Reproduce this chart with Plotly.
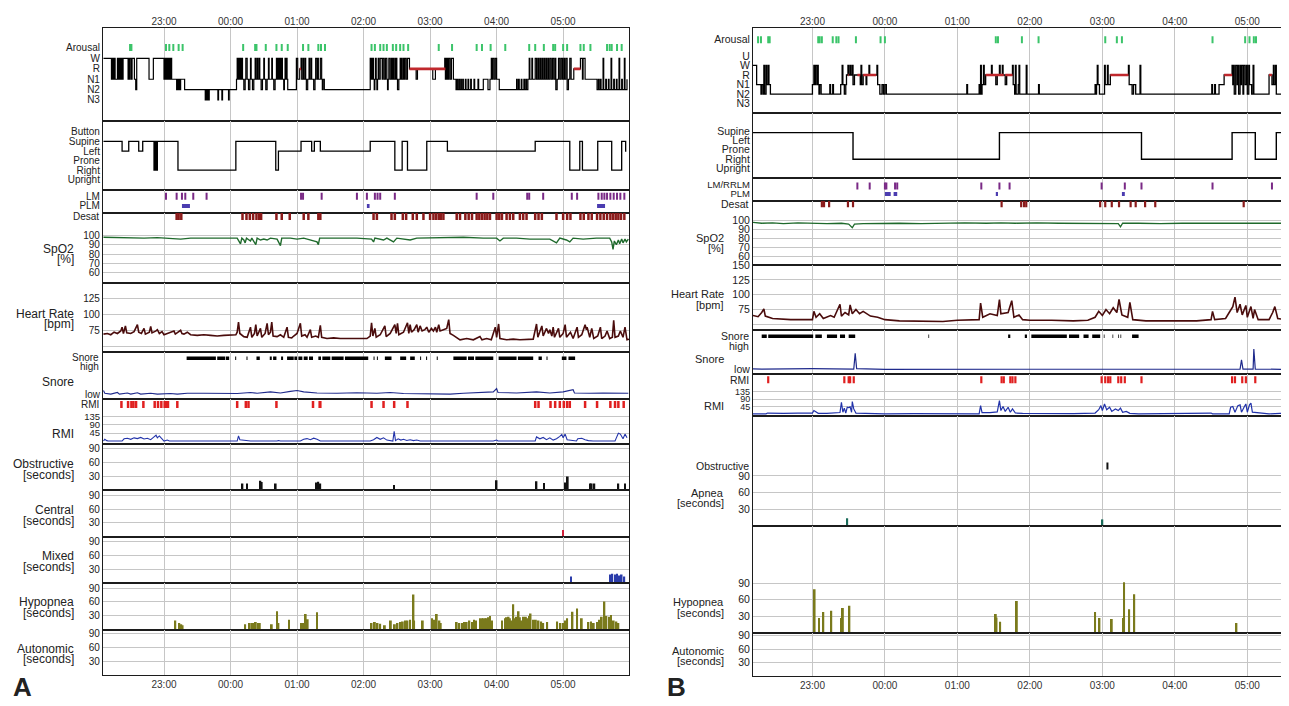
import plotly.graph_objects as go

# The page body has an 8px default margin, so the figure is drawn 8px smaller
# and every reference pixel position is shifted by OFF.
OFF = 8
FIG_W, FIG_H = 1289 - OFF, 706 - OFF
FONT = "Liberation Sans, Arial, sans-serif"
GRID = "#c6c6c6"
BORDER = "#1c1c1c"

HOUR_TICKS = [23, 24, 25, 26, 27, 28, 29]
HOUR_LABELS = ["23:00", "00:00", "01:00", "02:00", "03:00", "04:00", "05:00"]

# ======================= PANEL A DATA (hours; 24 = 00:00) =======================
# sleep stage: W=5, R=4, N1=3, N2=2, N3=1
A_STAGE = [(22.09, 5), (22.21, 3), (22.215, 5), (22.225, 3), (22.235, 5), (22.245, 3), (22.255, 5),
           (22.265, 3), (22.30, 5), (22.31, 3), (22.32, 5), (22.33, 3), (22.34, 5), (22.35, 3),
           (22.36, 5), (22.375, 3), (22.385, 5), (22.46, 3), (22.47, 5), (22.48, 3), (22.49, 5),
           (22.51, 3), (22.52, 5), (22.555, 3), (22.575, 2), (22.59, 5), (22.775, 3), (22.84, 5),
           (23.00, 3), (23.01, 5), (23.02, 3), (23.03, 5), (23.045, 3), (23.055, 5), (23.07, 3),
           (23.08, 5), (23.095, 3), (23.105, 5), (23.115, 3), (23.19, 2), (23.20, 3), (23.215, 2),
           (23.225, 3), (23.24, 2), (23.25, 3), (23.31, 2), (23.62, 1), (23.63, 2), (23.64, 1),
           (23.655, 2), (23.665, 1), (23.68, 2), (23.81, 1), (23.82, 2), (23.87, 1), (23.88, 2),
           (23.97, 1), (23.98, 2), (24.09, 3), (24.10, 5), (24.11, 3), (24.12, 5), (24.13, 3),
           (24.14, 5), (24.155, 3), (24.165, 5), (24.18, 3), (24.20, 2), (24.22, 3), (24.23, 5),
           (24.25, 3), (24.27, 2), (24.29, 3), (24.30, 5), (24.31, 3), (24.33, 2), (24.35, 3),
           (24.37, 5), (24.38, 3), (24.40, 5), (24.41, 3), (24.43, 5), (24.44, 3), (24.46, 2),
           (24.48, 3), (24.50, 5), (24.51, 3), (24.53, 2), (24.55, 3), (24.57, 5), (24.58, 3),
           (24.62, 5), (24.63, 3), (24.65, 2), (24.67, 3), (24.69, 5), (24.70, 3), (24.71, 5),
           (24.72, 3), (24.73, 5), (24.74, 3), (24.75, 5), (24.76, 3), (24.77, 5), (24.78, 3),
           (24.80, 2), (24.81, 3), (24.82, 5), (24.83, 3), (24.84, 5), (24.85, 3), (24.86, 2),
           (24.99, 5), (25.01, 3), (25.04, 4), (25.06, 5), (25.07, 3), (25.09, 5), (25.10, 3),
           (25.12, 5), (25.13, 3), (25.14, 2), (25.16, 3), (25.18, 5), (25.19, 3), (25.21, 5),
           (25.22, 3), (25.25, 2), (25.27, 3), (25.28, 5), (25.30, 3), (25.31, 5), (25.32, 3),
           (25.35, 5), (25.37, 3), (25.38, 2), (25.39, 3), (25.41, 2), (26.10, 5), (26.11, 3),
           (26.12, 5), (26.13, 3), (26.14, 5), (26.15, 3), (26.16, 2), (26.17, 3), (26.18, 5),
           (26.19, 3), (26.20, 2), (26.21, 3), (26.22, 5), (26.23, 3), (26.25, 5), (26.28, 3),
           (26.29, 5), (26.31, 3), (26.33, 5), (26.35, 3), (26.36, 2), (26.37, 3), (26.38, 5),
           (26.40, 3), (26.42, 5), (26.43, 3), (26.44, 5), (26.45, 3), (26.47, 5), (26.48, 3),
           (26.49, 5), (26.50, 3), (26.51, 2), (26.53, 3), (26.55, 5), (26.56, 3), (26.57, 5),
           (26.58, 3), (26.60, 5), (26.61, 3), (26.62, 5), (26.64, 3), (26.66, 5), (26.69, 4),
           (26.79, 3), (26.81, 4), (27.04, 3), (27.08, 4), (27.22, 5), (27.23, 3), (27.24, 5),
           (27.25, 3), (27.26, 5), (27.27, 3), (27.28, 5), (27.30, 3), (27.32, 5), (27.35, 3),
           (27.39, 2), (27.40, 3), (27.41, 2), (27.43, 3), (27.44, 2), (27.46, 3), (27.47, 2),
           (27.49, 3), (27.50, 2), (27.53, 3), (27.54, 2), (27.57, 3), (27.58, 2), (27.61, 3),
           (27.62, 2), (27.66, 3), (27.67, 2), (27.72, 3), (27.73, 2), (27.80, 3), (27.87, 2),
           (27.90, 3), (27.92, 5), (27.93, 3), (27.94, 5), (27.96, 3), (27.98, 5), (28.00, 3),
           (28.04, 2), (28.30, 3), (28.31, 2), (28.33, 3), (28.34, 2), (28.37, 3), (28.38, 2),
           (28.41, 3), (28.42, 2), (28.44, 3), (28.45, 2), (28.47, 3), (28.49, 5), (28.50, 3),
           (28.53, 5), (28.54, 3), (28.58, 5), (28.60, 3), (28.62, 5), (28.63, 3), (28.65, 5),
           (28.66, 3), (28.68, 5), (28.69, 3), (28.71, 5), (28.72, 3), (28.74, 5), (28.75, 3),
           (28.77, 5), (28.78, 3), (28.80, 5), (28.82, 3), (28.84, 5), (28.86, 3), (28.88, 5),
           (28.89, 2), (28.91, 3), (28.93, 5), (28.95, 3), (28.97, 5), (28.99, 3), (29.01, 5),
           (29.02, 3), (29.04, 5), (29.06, 2), (29.08, 3), (29.10, 5), (29.12, 3), (29.16, 4),
           (29.26, 5), (29.29, 3), (29.30, 5), (29.33, 3), (29.51, 2), (29.53, 3), (29.54, 2),
           (29.56, 3), (29.57, 2), (29.60, 5), (29.61, 2), (29.64, 3), (29.65, 2), (29.68, 3),
           (29.69, 2), (29.72, 5), (29.73, 2), (29.76, 3), (29.77, 2), (29.80, 3), (29.81, 2),
           (29.84, 5), (29.85, 2), (29.88, 3), (29.89, 2), (29.92, 5), (29.93, 2), (29.96, 3)]
A_REM = [(25.04, 25.06), (26.69, 27.23), (29.16, 29.26)]
A_AROUSAL = [22.49, 22.51, 23.03, 23.08, 23.14, 23.22, 23.28, 24.19, 24.37, 24.39, 24.53, 24.69,
             24.77, 24.86, 25.09, 25.17, 25.32, 25.36, 25.42, 26.12, 26.17, 26.25, 26.30, 26.35,
             26.44, 26.49, 26.55, 26.60, 26.67, 27.13, 27.33, 27.70, 27.78, 27.91, 28.13, 28.49,
             28.58, 28.71, 28.85, 28.88, 29.00, 29.06, 29.26, 29.31, 29.41, 29.66, 29.70, 29.73,
             29.81, 29.88]
# body position: Button=6, Supine=5, Left=4, Prone=3, Right=2, Upright=1
A_POS = [(22.09, 5), (22.37, 4), (22.47, 5), (22.62, 4), (22.68, 5), (22.85, 2), (22.86, 5),
         (22.865, 2), (22.87, 5), (22.875, 2), (22.88, 5), (22.885, 2), (22.89, 5), (22.895, 2),
         (22.90, 5), (23.21, 2), (24.08, 5), (24.68, 2), (24.72, 4), (25.06, 5), (25.22, 4),
         (25.26, 5), (25.35, 4), (26.10, 5), (26.47, 2), (26.58, 5), (26.66, 2), (26.95, 5),
         (27.26, 4), (28.58, 5), (29.10, 2), (29.25, 5), (29.29, 2), (29.52, 5), (29.73, 2),
         (29.88, 5), (29.94, 4), (29.95, 4)]
A_LM = [23.03, 23.19, 23.27, 23.32, 23.44, 23.64, 25.06, 25.09, 25.37, 25.90, 26.05, 26.17,
        26.21, 26.25, 26.47, 27.70, 27.95, 28.46, 28.49, 28.70, 29.13, 29.21, 29.53, 29.58,
        29.62, 29.66, 29.71, 29.76, 29.81, 29.86, 29.92]
A_PLM = [(23.27, 23.39), (26.05, 26.09), (29.51, 29.63)]
A_DESAT = [23.19, 23.22, 23.26, 24.18, 24.24, 24.29, 24.34, 24.39, 24.43, 24.46, 24.69, 24.77,
           24.89, 25.10, 25.17, 25.32, 25.35, 26.15, 26.20, 26.42, 26.47, 26.59, 26.64, 26.74,
           26.80, 26.90, 27.00, 27.05, 27.09, 27.13, 27.16, 27.20, 27.40, 27.45, 27.53, 27.58,
           27.63, 27.70, 27.74, 27.78, 27.82, 27.86, 27.90, 28.00, 28.04, 28.08, 28.15, 28.20,
           28.25, 28.35, 28.40, 28.45, 28.58, 28.63, 28.68, 28.90, 29.00, 29.06, 29.11, 29.26,
           29.31, 29.38, 29.43, 29.51, 29.56, 29.61, 29.66, 29.71, 29.75, 29.79, 29.83, 29.87, 29.92]
A_SPO2 = [(22.09, 98), (22.3, 97.5), (22.5, 97.8), (22.7, 97), (22.9, 97.5), (23.1, 97), (23.25, 96),
          (23.4, 97), (23.6, 97.2), (23.8, 97), (24.0, 97), (24.1, 97), (24.15, 91), (24.17, 97),
          (24.2, 95), (24.22, 92), (24.24, 97), (24.3, 94), (24.32, 97), (24.36, 93), (24.38, 90),
          (24.40, 97), (24.45, 95), (24.5, 96), (24.55, 95), (24.6, 97), (24.7, 96), (24.75, 89),
          (24.77, 97), (24.9, 97), (25.0, 96), (25.1, 97), (25.2, 95), (25.3, 93), (25.32, 90),
          (25.34, 97), (25.5, 97), (25.7, 97), (25.9, 97), (26.12, 96), (26.15, 93), (26.17, 97),
          (26.3, 95), (26.35, 97), (26.45, 93), (26.5, 97), (26.6, 96), (26.7, 95), (26.8, 97),
          (27.0, 97.5), (27.2, 98), (27.5, 98), (27.8, 97), (28.0, 97), (28.05, 94), (28.1, 97),
          (28.3, 97), (28.5, 96), (28.8, 96), (28.9, 92), (28.95, 97), (29.05, 95), (29.1, 93),
          (29.15, 97), (29.3, 96), (29.5, 97), (29.7, 97), (29.73, 93), (29.75, 85), (29.77, 94),
          (29.8, 90), (29.83, 95), (29.85, 91), (29.88, 96), (29.9, 92), (29.93, 96), (29.95, 93),
          (29.98, 96)]
A_HR = [(22.09, 69), (22.15, 70), (22.2, 68), (22.25, 72), (22.3, 70), (22.35, 74), (22.37, 80),
        (22.39, 70), (22.42, 82), (22.44, 71), (22.5, 70), (22.55, 73), (22.6, 84), (22.62, 72),
        (22.66, 70), (22.7, 78), (22.72, 69), (22.78, 72), (22.8, 81), (22.82, 71), (22.88, 74),
        (22.9, 76), (22.93, 70), (22.97, 73), (23.0, 68), (23.05, 70), (23.1, 72), (23.15, 74),
        (23.17, 69), (23.22, 72), (23.25, 75), (23.27, 70), (23.3, 69), (23.35, 72), (23.4, 68),
        (23.5, 67), (23.6, 68), (23.7, 67), (23.8, 66), (23.9, 67), (24.0, 67), (24.08, 68),
        (24.1, 72), (24.12, 88), (24.14, 70), (24.2, 65), (24.25, 64), (24.3, 80), (24.32, 64),
        (24.36, 70), (24.38, 84), (24.4, 66), (24.45, 78), (24.47, 64), (24.52, 70), (24.55, 86),
        (24.57, 68), (24.6, 72), (24.62, 88), (24.64, 66), (24.7, 65), (24.75, 68), (24.8, 64),
        (24.85, 80), (24.87, 64), (24.92, 63), (24.95, 66), (25.0, 70), (25.05, 86), (25.07, 66),
        (25.12, 68), (25.15, 64), (25.2, 76), (25.22, 64), (25.28, 66), (25.32, 64), (25.35, 83),
        (25.37, 64), (25.45, 62), (25.55, 63), (25.65, 62), (25.75, 62), (25.85, 62), (25.95, 63),
        (26.05, 62), (26.1, 66), (26.12, 87), (26.14, 66), (26.17, 78), (26.19, 64), (26.25, 68),
        (26.32, 82), (26.34, 65), (26.4, 70), (26.47, 84), (26.49, 70), (26.51, 86), (26.53, 68),
        (26.6, 72), (26.66, 87), (26.68, 70), (26.7, 84), (26.72, 72), (26.76, 76), (26.8, 84),
        (26.82, 72), (26.85, 82), (26.88, 74), (26.92, 76), (26.95, 80), (26.98, 72), (27.02, 78),
        (27.05, 74), (27.08, 80), (27.1, 72), (27.13, 84), (27.15, 74), (27.2, 76), (27.25, 78),
        (27.28, 92), (27.3, 70), (27.35, 67), (27.45, 60), (27.55, 62), (27.65, 60), (27.75, 65),
        (27.78, 60), (27.85, 62), (27.92, 60), (27.98, 80), (28.0, 64), (28.03, 85), (28.05, 62),
        (28.15, 60), (28.25, 61), (28.35, 60), (28.45, 61), (28.55, 61), (28.6, 85), (28.62, 64),
        (28.68, 82), (28.7, 66), (28.75, 78), (28.78, 70), (28.8, 76), (28.83, 66), (28.85, 80),
        (28.87, 64), (28.93, 78), (28.95, 64), (29.0, 70), (29.03, 84), (29.05, 64), (29.11, 72),
        (29.15, 62), (29.21, 80), (29.23, 64), (29.28, 68), (29.33, 84), (29.35, 76), (29.36, 80),
        (29.4, 64), (29.43, 78), (29.46, 62), (29.52, 66), (29.56, 80), (29.58, 62), (29.63, 66),
        (29.66, 74), (29.7, 62), (29.74, 64), (29.76, 91), (29.78, 64), (29.83, 66), (29.86, 74),
        (29.9, 64), (29.93, 80), (29.96, 60), (29.99, 61)]
A_SNORE_HIGH = [(23.34, 23.78), (23.80, 23.92), (23.93, 23.98), (24.07, 24.085), (24.24, 24.255),
                (24.39, 24.44), (24.59, 24.62), (24.64, 24.69), (24.76, 24.79), (24.85, 24.95),
                (24.96, 25.00), (25.02, 25.08), (25.10, 25.16), (25.18, 25.24), (25.32, 25.36),
                (25.38, 25.50), (25.52, 25.70), (25.72, 26.07), (26.15, 26.165), (26.20, 26.215),
                (26.32, 26.42), (26.55, 26.64), (26.70, 26.77), (26.85, 26.865), (26.94, 26.955),
                (27.10, 27.115), (27.35, 27.55), (27.57, 27.66), (27.68, 27.95), (28.03, 28.30),
                (28.32, 28.55), (28.63, 28.68), (28.75, 28.765), (28.98, 29.05), (29.08, 29.18)]
A_SNORE = [(22.09, 0.15), (22.11, 0.05), (22.2, 0.02), (22.3, 0.08), (22.33, 0.02), (22.45, 0.06),
           (22.5, 0.02), (22.6, 0.07), (22.65, 0.02), (22.8, 0.05), (22.9, 0.02), (23.1, 0.04),
           (23.2, 0.02), (23.35, 0.05), (23.6, 0.05), (23.9, 0.05), (24.1, 0.04), (24.3, 0.08),
           (24.4, 0.05), (24.6, 0.1), (24.75, 0.06), (24.9, 0.12), (25.0, 0.15), (25.1, 0.1),
           (25.3, 0.06), (25.6, 0.05), (25.9, 0.07), (26.2, 0.05), (26.4, 0.08), (26.6, 0.04),
           (26.9, 0.02), (27.3, 0.02), (27.5, 0.05), (27.8, 0.08), (27.95, 0.1), (28.0, 0.22),
           (28.02, 0.08), (28.3, 0.06), (28.6, 0.1), (28.8, 0.06), (29.0, 0.1), (29.15, 0.18),
           (29.17, 0.06), (29.4, 0.05), (29.6, 0.06), (29.98, 0.05)]
A_RMI_EVENTS = [22.36, 22.46, 22.51, 22.54, 22.58, 22.69, 22.86, 22.91, 22.96, 23.01, 23.03, 23.06,
                23.20, 24.10, 24.23, 24.27, 24.69, 25.24, 25.34, 25.35, 26.12, 26.30, 26.46, 26.66,
                28.58, 28.63, 28.81, 28.88, 28.95, 29.01, 29.06, 29.10, 29.33, 29.51, 29.71, 29.78,
                29.83, 29.91]
A_RMI = [(22.09, 3), (22.11, 12), (22.14, 5), (22.16, 3), (22.37, 3), (22.40, 15), (22.45, 18),
         (22.5, 12), (22.55, 20), (22.6, 16), (22.65, 22), (22.7, 14), (22.75, 18), (22.8, 10),
         (22.85, 25), (22.88, 34), (22.9, 20), (22.93, 30), (22.96, 18), (23.0, 3), (23.05, 8),
         (23.08, 3), (24.1, 3), (24.12, 30), (24.14, 10), (24.2, 8), (24.25, 5), (24.3, 3),
         (24.7, 3), (24.72, 6), (24.75, 3), (25.05, 3), (25.1, 12), (25.15, 16), (25.2, 10),
         (25.25, 18), (25.3, 12), (25.35, 3), (26.1, 3), (26.15, 10), (26.2, 22), (26.25, 12),
         (26.3, 20), (26.35, 8), (26.44, 3), (26.46, 55), (26.48, 5), (26.52, 15), (26.56, 8),
         (26.6, 12), (26.65, 6), (26.7, 10), (26.75, 5), (26.8, 8), (26.85, 3), (27.95, 3),
         (28.0, 8), (28.02, 3), (28.58, 3), (28.6, 25), (28.65, 15), (28.7, 22), (28.75, 10),
         (28.8, 20), (28.85, 8), (28.9, 15), (28.95, 28), (28.98, 38), (29.0, 20), (29.03, 40),
         (29.06, 10), (29.2, 3), (29.22, 15), (29.28, 18), (29.33, 10), (29.38, 5), (29.45, 3),
         (29.78, 3), (29.8, 20), (29.83, 45), (29.86, 40), (29.9, 15), (29.93, 40), (29.96, 20)]
A_OBSTRUCTIVE = [(24.18, 15), (24.25, 15), (24.45, 21), (24.47, 18), (24.68, 15), (25.29, 17),
                 (25.32, 19), (25.35, 15), (26.46, 12), (28.00, 22), (28.60, 20), (28.71, 16),
                 (29.03, 17), (29.07, 30), (29.41, 15), (29.43, 15), (29.47, 15), (29.83, 15),
                 (29.93, 15)]
A_CENTRAL = [(29.00, 15)]
A_MIXED = [(29.12, 15), (29.71, 19), (29.74, 21), (29.78, 19), (29.81, 21), (29.84, 17),
           (29.88, 19), (29.92, 15)]
A_HYPOPNEA = [(23.17, 20), (23.23, 15), (23.26, 12), (23.28, 10), (24.22, 12), (24.29, 15),
              (24.33, 15), (24.35, 15), (24.38, 17), (24.42, 15), (24.44, 15), (24.62, 12),
              (24.70, 40), (24.72, 15), (24.88, 22), (25.06, 15), (25.10, 15), (25.13, 34),
              (25.16, 23), (25.30, 38), (26.12, 15), (26.17, 17), (26.21, 15), (26.25, 13),
              (26.32, 10), (26.41, 20), (26.47, 12), (26.51, 15), (26.55, 17), (26.59, 18),
              (26.63, 20), (26.66, 20), (26.70, 22), (26.75, 76), (26.76, 20), (26.89, 20),
              (27.03, 25), (27.06, 22), (27.10, 34), (27.14, 20), (27.16, 15), (27.40, 17),
              (27.44, 15), (27.48, 15), (27.51, 17), (27.55, 17), (27.59, 20), (27.63, 17),
              (27.66, 22), (27.69, 20), (27.75, 25), (27.78, 25), (27.80, 25), (27.83, 25),
              (27.85, 25), (27.88, 27), (27.90, 30), (27.93, 20), (28.08, 20), (28.13, 25),
              (28.15, 27), (28.18, 28), (28.20, 25), (28.23, 20), (28.25, 55), (28.28, 25),
              (28.30, 28), (28.33, 40), (28.35, 27), (28.38, 20), (28.40, 28), (28.44, 28),
              (28.46, 25), (28.49, 30), (28.51, 35), (28.55, 22), (28.59, 22), (28.63, 20),
              (28.67, 18), (28.70, 15), (28.76, 17), (28.91, 18), (28.96, 15), (29.00, 15),
              (29.03, 20), (29.06, 25), (29.14, 39), (29.21, 46), (29.28, 25), (29.38, 17),
              (29.42, 18), (29.46, 15), (29.51, 17), (29.55, 22), (29.58, 28), (29.62, 61),
              (29.65, 30), (29.69, 28), (29.72, 32), (29.76, 20), (29.80, 18), (29.83, 15)]

# ======================= PANEL B DATA =======================
# sleep stage: U=6, W=5, R=4, N1=3, N2=2, N3=1
B_STAGE = [(22.18, 5), (22.23, 3), (22.29, 2), (22.30, 3), (22.32, 2), (22.33, 5), (22.34, 2),
           (22.36, 5), (22.37, 3), (22.39, 5), (22.40, 3), (22.42, 2), (23.00, 3), (23.02, 5),
           (23.03, 3), (23.04, 5), (23.06, 3), (23.07, 5), (23.08, 3), (23.09, 2), (23.10, 3),
           (23.12, 2), (23.24, 3), (23.25, 2), (23.28, 3), (23.29, 2), (23.39, 3), (23.41, 5),
           (23.42, 3), (23.44, 2), (23.46, 3), (23.47, 4), (23.49, 5), (23.50, 4), (23.52, 5),
           (23.53, 4), (23.55, 5), (23.56, 3), (23.58, 4), (23.66, 3), (23.67, 5), (23.68, 3),
           (23.70, 4), (23.74, 3), (23.75, 4), (23.78, 5), (23.79, 4), (23.89, 5), (23.90, 3),
           (23.93, 2), (23.96, 3), (23.98, 2), (24.00, 3), (24.02, 2), (25.13, 3), (25.14, 2),
           (25.30, 3), (25.31, 2), (25.32, 5), (25.33, 2), (25.34, 3), (25.36, 5), (25.37, 3),
           (25.39, 4), (25.47, 5), (25.48, 4), (25.53, 3), (25.55, 4), (25.58, 5), (25.59, 4),
           (25.62, 5), (25.63, 4), (25.66, 3), (25.68, 4), (25.76, 5), (25.77, 3), (25.79, 2),
           (25.80, 5), (25.81, 2), (25.84, 3), (25.85, 5), (25.86, 2), (25.95, 5), (25.96, 2),
           (26.12, 3), (26.13, 2), (26.90, 3), (26.91, 2), (26.92, 3), (26.93, 5), (26.94, 3),
           (26.96, 2), (27.03, 5), (27.04, 3), (27.07, 5), (27.08, 3), (27.11, 4), (27.36, 5),
           (27.37, 3), (27.41, 2), (27.43, 3), (27.46, 2), (27.52, 5), (27.53, 2), (28.51, 3),
           (28.52, 2), (28.55, 3), (28.56, 2), (28.61, 3), (28.68, 4), (28.79, 5), (28.80, 3),
           (28.81, 5), (28.82, 2), (28.84, 5), (28.86, 3), (28.87, 5), (28.88, 2), (28.90, 5),
           (28.91, 3), (28.92, 5), (28.94, 2), (28.95, 5), (28.97, 3), (28.99, 5), (29.00, 2),
           (29.02, 5), (29.03, 3), (29.06, 2), (29.08, 5), (29.09, 2), (29.30, 4), (29.34, 3),
           (29.36, 5), (29.37, 3), (29.39, 5), (29.40, 2), (29.52, 2)]
B_REM = [(23.49, 23.50), (23.62, 23.66), (23.70, 23.88), (25.39, 25.64), (25.66, 25.76),
         (27.11, 27.36), (28.68, 28.79), (29.30, 29.34)]
B_AROUSAL = [22.25, 22.29, 22.39, 22.41, 23.08, 23.10, 23.13, 23.28, 23.33, 23.36, 23.60, 23.94,
             24.00, 25.53, 25.56, 25.89, 26.12, 27.04, 27.20, 27.27, 28.52, 28.97, 29.03, 29.09,
             29.12]
# body position: Supine=5, Left=4, Prone=3, Right=2, Upright=1
B_POS = [(22.18, 5), (23.56, 2), (25.58, 5), (27.54, 2), (28.79, 5), (29.11, 2), (29.40, 5),
         (29.52, 5)]
B_LM = [23.62, 23.79, 24.00, 24.02, 24.14, 24.17, 25.33, 25.58, 25.72, 26.99, 27.31, 27.54,
        28.52, 29.34]
B_PLM = [(24.00, 24.08), (24.12, 24.17), (25.53, 25.56), (27.27, 27.31)]
B_DESAT = [23.13, 23.16, 23.23, 23.49, 23.56, 25.61, 25.88, 25.92, 25.95, 26.97, 27.04, 27.13,
           27.23, 27.39, 27.46, 27.59, 27.73, 28.95]
B_SPO2 = [(22.18, 98), (22.3, 97), (22.45, 97.5), (22.6, 96.5), (22.8, 97.5), (23.0, 97),
          (23.2, 96.5), (23.4, 97), (23.5, 96), (23.55, 92), (23.58, 96), (23.7, 96.5),
          (23.9, 97), (24.2, 97), (24.5, 96.5), (24.8, 97), (25.1, 97.5), (25.4, 97), (25.6, 97.5),
          (25.8, 97), (26.1, 97.5), (26.4, 97), (26.7, 97), (26.9, 96.5), (27.1, 97),
          (27.22, 96.5), (27.25, 93), (27.28, 97), (27.5, 97), (27.8, 96.5), (28.1, 97),
          (28.4, 97), (28.7, 97.5), (28.9, 97), (29.1, 97.5), (29.3, 97), (29.52, 97)]
B_HR = [(22.18, 65), (22.25, 63), (22.3, 70), (22.33, 76), (22.35, 64), (22.45, 60), (22.7, 58),
        (23.0, 58), (23.02, 72), (23.05, 62), (23.1, 68), (23.15, 60), (23.25, 65), (23.3, 62),
        (23.38, 84), (23.4, 64), (23.45, 70), (23.5, 66), (23.52, 83), (23.55, 68), (23.6, 75),
        (23.65, 68), (23.7, 72), (23.8, 64), (23.9, 62), (24.0, 58), (24.2, 56), (24.5, 56),
        (24.8, 55), (25.0, 57), (25.2, 57), (25.3, 58), (25.32, 86), (25.35, 62), (25.45, 68),
        (25.55, 65), (25.58, 92), (25.6, 68), (25.7, 70), (25.75, 90), (25.78, 62), (25.85, 66),
        (25.9, 58), (26.0, 57), (26.3, 57), (26.6, 56), (26.8, 57), (26.9, 62), (26.95, 72),
        (27.0, 65), (27.05, 75), (27.1, 68), (27.15, 78), (27.2, 70), (27.23, 92), (27.27, 66),
        (27.35, 62), (27.38, 87), (27.42, 58), (27.6, 56), (28.0, 56), (28.3, 56), (28.5, 58),
        (28.52, 72), (28.55, 58), (28.7, 60), (28.75, 70), (28.8, 80), (28.83, 96), (28.86, 70),
        (28.9, 84), (28.93, 66), (28.98, 82), (29.0, 62), (29.05, 80), (29.08, 60), (29.1, 75),
        (29.15, 58), (29.3, 58), (29.35, 70), (29.38, 80), (29.42, 60), (29.52, 58)]
B_SNORE_HIGH = [(22.30, 22.37), (22.39, 23.01), (23.04, 23.13), (23.20, 23.34), (23.38, 23.45),
                (23.50, 23.59), (24.60, 24.61), (25.70, 25.73), (25.93, 25.96), (26.02, 26.51),
                (26.54, 26.68), (26.74, 26.81), (26.86, 26.97), (27.02, 27.03), (27.14, 27.15),
                (27.22, 27.23), (27.25, 27.26), (27.41, 27.50)]
B_SNORE = [(22.18, 0.04), (22.3, 0.03), (23.0, 0.05), (23.57, 0.03), (23.59, 0.7), (23.61, 0.05),
           (24.0, 0.02), (25.0, 0.02), (26.0, 0.02), (27.0, 0.04), (27.5, 0.02), (28.0, 0.02),
           (28.5, 0.02), (28.9, 0.03), (28.92, 0.42), (28.94, 0.03), (29.08, 0.03), (29.09, 0.88),
           (29.11, 0.03), (29.52, 0.02)]
B_RMI_EVENTS = [22.39, 23.44, 23.50, 23.52, 23.57, 25.33, 25.61, 25.64, 25.73, 25.76, 25.80,
                26.99, 27.04, 27.08, 27.11, 27.22, 27.26, 27.31, 27.54, 28.79, 28.83, 28.93,
                28.98, 29.11]
B_RMI = [(22.18, 0), (22.36, 0), (22.38, 5), (22.45, 4), (22.6, 3), (22.8, 4), (23.0, 5),
         (23.02, 20), (23.05, 10), (23.08, 3), (23.2, 3), (23.38, 8), (23.40, 70), (23.42, 10),
         (23.44, 35), (23.46, 5), (23.48, 40), (23.5, 38), (23.52, 42), (23.54, 10), (23.55, 75),
         (23.57, 30), (23.6, 5), (23.7, 3), (23.8, 2), (24.0, 0), (24.4, 2), (25.3, 0),
         (25.32, 50), (25.34, 8), (25.45, 8), (25.5, 10), (25.55, 12), (25.58, 80), (25.6, 20),
         (25.63, 45), (25.66, 15), (25.7, 40), (25.73, 10), (25.76, 30), (25.8, 5), (25.9, 3),
         (26.2, 2), (26.6, 2), (26.9, 5), (26.95, 25), (26.98, 50), (27.0, 20), (27.03, 60),
         (27.06, 25), (27.1, 40), (27.13, 15), (27.18, 30), (27.22, 20), (27.25, 35),
         (27.28, 10), (27.33, 15), (27.38, 3), (27.5, 0), (28.5, 5), (28.52, 0), (28.75, 0),
         (28.77, 40), (28.8, 45), (28.83, 10), (28.87, 50), (28.9, 55), (28.92, 10), (28.96, 45),
         (28.98, 60), (29.0, 10), (29.03, 55), (29.05, 65), (29.07, 10), (29.3, 0), (29.4, 5),
         (29.45, 3), (29.52, 0)]
B_OBSTRUCTIVE = [(23.48, 14), (27.00, 12)]
B_OBS_MARK = [27.07]
B_OBS_MARK_LEVEL = 108
B_HYPOPNEA = [(23.03, 79), (23.09, 27), (23.15, 38), (23.26, 40), (23.40, 27), (23.42, 45),
              (23.51, 49), (25.53, 34), (25.54, 28), (25.59, 20), (25.82, 58), (26.90, 38),
              (26.96, 27), (27.13, 25), (27.29, 27), (27.30, 92), (27.37, 43), (27.44, 70),
              (28.85, 18)]

# ======================= FIGURE =======================
fig = go.Figure()


def xpaper(px):
    return (px - OFF) / FIG_W


def ypaper(py):
    return 1 - (py - OFF) / FIG_H


def ydom(top, bot):
    return [ypaper(bot), ypaper(top)]


def unzip(pairs):
    return [p[0] for p in pairs], [p[1] for p in pairs]


def step_trace(pairs, xa, ya, color, width=1.2):
    xs, ys = unzip(pairs)
    return go.Scatter(x=xs, y=ys, mode="lines", line=dict(color=color, width=width, shape="hv"),
                      xaxis=xa, yaxis=ya, hoverinfo="skip", showlegend=False)


def line_trace(pairs, xa, ya, color, width=1.0):
    xs, ys = unzip(pairs)
    return go.Scatter(x=xs, y=ys, mode="lines", line=dict(color=color, width=width),
                      xaxis=xa, yaxis=ya, hoverinfo="skip", showlegend=False)


def tick_trace(times, level, xa, ya, color, size=5, width=2.0):
    return go.Scatter(x=times, y=[level] * len(times), mode="markers",
                      marker=dict(symbol="line-ns", size=size, line=dict(color=color, width=width)),
                      xaxis=xa, yaxis=ya, hoverinfo="skip", showlegend=False)


def seg_trace(spans, level, xa, ya, color, width):
    xs, ys = [], []
    for s, e in spans:
        xs += [s, e, None]
        ys += [level, level, None]
    return go.Scatter(x=xs, y=ys, mode="lines", line=dict(color=color, width=width),
                      xaxis=xa, yaxis=ya, hoverinfo="skip", showlegend=False)


def bar_trace(pairs, xa, ya, color, w):
    xs, ys = unzip(pairs)
    return go.Bar(x=xs, y=ys, width=w, marker=dict(color=color, line=dict(width=0)),
                  xaxis=xa, yaxis=ya, hoverinfo="skip", showlegend=False)


# ---------- Panel A traces ----------
fig.add_trace(tick_trace(A_AROUSAL, 6.05, "x", "y", "#3cc46a", 5, 2))
fig.add_trace(step_trace(A_STAGE, "x", "y", "#000000", 1.2))
fig.add_trace(seg_trace(A_REM, 4, "x", "y", "#c0282d", 2.6))
fig.add_trace(step_trace(A_POS, "x", "y2", "#000000", 1.3))
fig.add_trace(tick_trace(A_LM, 0.72, "x", "y3", "#7a2a86", 5, 2))
fig.add_trace(seg_trace(A_PLM, 0.3, "x", "y3", "#4b3cb0", 4))
fig.add_trace(tick_trace(A_DESAT, 120, "x", "y4", "#8a1a1a", 5, 2.5))
fig.add_trace(line_trace(A_SPO2, "x", "y4", "#1f6a2c", 1.4))
fig.add_trace(line_trace(A_HR, "x", "y5", "#4a0c0c", 1.6))
fig.add_trace(seg_trace(A_SNORE_HIGH, 1.32, "x", "y6", "#000000", 3.5))
fig.add_trace(line_trace(A_SNORE, "x", "y6", "#1f2a8c", 1.1))
fig.add_trace(tick_trace(A_RMI_EVENTS, 198, "x", "y7", "#e02020", 5, 2.5))
fig.add_trace(line_trace(A_RMI, "x", "y7", "#2233aa", 1.1))
fig.add_trace(bar_trace(A_OBSTRUCTIVE, "x", "y8", "#111111", 0.025))
fig.add_trace(bar_trace(A_CENTRAL, "x", "y9", "#d0203a", 0.025))
fig.add_trace(bar_trace(A_MIXED, "x", "y10", "#2b3caa", 0.025))
fig.add_trace(bar_trace(A_HYPOPNEA, "x", "y11", "#7a7a1c", 0.028))
fig.add_trace(go.Scatter(x=[23], y=[None], xaxis="x2", yaxis="y", showlegend=False, hoverinfo="skip"))
fig.add_trace(go.Scatter(x=[23], y=[None], xaxis="x", yaxis="y12", showlegend=False, hoverinfo="skip"))

# ---------- Panel B traces ----------
fig.add_trace(tick_trace(B_AROUSAL, 7.69, "x3", "y13", "#3cc46a", 5, 2))
fig.add_trace(step_trace(B_STAGE, "x3", "y13", "#000000", 1.3))
fig.add_trace(seg_trace(B_REM, 4, "x3", "y13", "#c0282d", 2.6))
fig.add_trace(step_trace(B_POS, "x3", "y14", "#000000", 1.4))
fig.add_trace(tick_trace(B_LM, 0.65, "x3", "y15", "#7a2a86", 5, 2))
fig.add_trace(seg_trace(B_PLM, 0.3, "x3", "y15", "#4b3cb0", 4))
fig.add_trace(tick_trace(B_DESAT, 119, "x3", "y16", "#8a1a1a", 5, 2.2))
fig.add_trace(line_trace(B_SPO2, "x3", "y16", "#1f6a2c", 1.3))
fig.add_trace(line_trace(B_HR, "x3", "y17", "#4a0c0c", 1.6))
fig.add_trace(seg_trace(B_SNORE_HIGH, 1.42, "x3", "y18", "#000000", 3.5))
fig.add_trace(line_trace(B_SNORE, "x3", "y18", "#1f2a8c", 1.2))
fig.add_trace(tick_trace(B_RMI_EVENTS, 207, "x3", "y19", "#e02020", 5, 2.2))
fig.add_trace(line_trace(B_RMI, "x3", "y19", "#2233aa", 1.2))
fig.add_trace(bar_trace(B_OBSTRUCTIVE, "x3", "y20", "#1a6b5a", 0.025))
fig.add_trace(tick_trace(B_OBS_MARK, B_OBS_MARK_LEVEL, "x3", "y20", "#111111", 5, 2))
fig.add_trace(bar_trace(B_HYPOPNEA, "x3", "y21", "#7a7a1c", 0.026))
fig.add_trace(go.Scatter(x=[23], y=[None], xaxis="x4", yaxis="y13", showlegend=False, hoverinfo="skip"))
fig.add_trace(go.Scatter(x=[23], y=[None], xaxis="x3", yaxis="y22", showlegend=False, hoverinfo="skip"))

# ---------- axes ----------
layout = dict(width=FIG_W, height=FIG_H, margin=dict(l=0, r=0, t=0, b=0),
              paper_bgcolor="white", plot_bgcolor="white", barmode="overlay",
              font=dict(family=FONT, color="#222222"), showlegend=False)

LW = 1.1
A_XR = [22.083, 29.99]
B_XR = [22.18, 29.52]
A_DOM = [xpaper(103), xpaper(629)]
B_DOM = [xpaper(753), min(1.0, xpaper(1285))]

xcommon = dict(tickvals=HOUR_TICKS, ticktext=HOUR_LABELS, ticks="", zeroline=False,
               tickfont=dict(size=10, color="#333333"), fixedrange=True)
layout["xaxis"] = dict(domain=A_DOM, range=A_XR, anchor="y12", side="bottom", showgrid=True,
                       gridcolor=GRID, gridwidth=1, showline=True, mirror="all",
                       linecolor=BORDER, linewidth=LW, **xcommon)
layout["xaxis2"] = dict(domain=A_DOM, range=A_XR, anchor="y", side="top", overlaying="x",
                        showgrid=False, showline=False, **xcommon)
layout["xaxis3"] = dict(domain=B_DOM, range=B_XR, anchor="y22", side="bottom", showgrid=True,
                        gridcolor=GRID, gridwidth=1, showline=True, mirror="all",
                        linecolor=BORDER, linewidth=LW, **xcommon)
layout["xaxis4"] = dict(domain=B_DOM, range=B_XR, anchor="y13", side="top", overlaying="x3",
                        showgrid=False, showline=False, **xcommon)


def yax(top, bot, rng, tv, tt, grid, anchor, fs):
    return dict(domain=ydom(top, bot), range=rng, tickvals=tv, ticktext=tt, showgrid=grid,
                gridcolor=GRID, gridwidth=1, zeroline=False, showline=True, mirror=True,
                linecolor=BORDER, linewidth=LW, ticks="", anchor=anchor,
                tickfont=dict(size=fs, color="#222222"), fixedrange=True)


APN = [90, 60, 30]
APN_T = ["90", "60", "30"]
fa = 10
layout["yaxis"] = yax(22, 116, [-1, 7.95], [6.05, 5, 4, 3, 2, 1],
                      ["Arousal", "W", "R", "N1", "N2", "N3"], False, "x", fa)
layout["yaxis2"] = yax(116, 186, [-0.06, 7.16], [6, 5, 4, 3, 2, 1],
                       ["Button", "Supine", "Left", "Prone", "Right", "Upright"], False, "x", fa)
layout["yaxis3"] = yax(186, 209, [0, 1], [0.72, 0.32], ["LM", "PLM"], False, "x", fa)
layout["yaxis4"] = yax(209, 280, [49.5, 124], [100, 90, 80, 70, 60],
                       ["100", "90", "80", "70", "60"], True, "x", fa)
layout["yaxis5"] = yax(280, 350, [40.6, 150], [125, 100, 75, 50], ["125", "100", "75", ""], True, "x", fa)
layout["yaxis6"] = yax(350, 397, [-0.14, 1.54], [0], ["low"], False, "x", fa)
layout["yaxis7"] = yax(397, 443, [-13, 230], [135, 90, 45], ["135", "90", "45"], True, "x", 9.5)
layout["yaxis8"] = yax(443, 490, [0, 100], APN, APN_T, True, "x", fa)
layout["yaxis9"] = yax(490, 537, [0, 100], APN, APN_T, True, "x", fa)
layout["yaxis10"] = yax(537, 584, [0, 100], APN, APN_T, True, "x", fa)
layout["yaxis11"] = yax(584, 631, [0, 100], APN, APN_T, True, "x", fa)
layout["yaxis12"] = yax(631, 677, [0, 98], APN, APN_T, True, "x", fa)

fb = 10.5
layout["yaxis13"] = yax(22, 108, [0.04, 8.93], [7.69, 6, 5, 4, 3, 2, 1],
                        ["Arousal", "U", "W", "R", "N1", "N2", "N3"], False, "x3", fb)
layout["yaxis14"] = yax(108, 174, [-0.11, 7.22], [5.2, 4.1, 3.1, 2, 1],
                        ["Supine", "Left", "Prone", "Right", "Upright"], False, "x3", fb)
layout["yaxis15"] = yax(174, 197, [0, 1], [0.70, 0.32], ["LM/RRLM", "PLM"], False, "x3", 9.5)
layout["yaxis16"] = yax(197, 262, [50, 122.2], [100, 90, 80, 70, 60],
                        ["100", "90", "80", "70", "60"], True, "x3", fb)
layout["yaxis17"] = yax(262, 328, [40, 150], [150, 125, 100, 75, 50],
                        ["150", "125", "100", "75", ""], True, "x3", fb)
layout["yaxis18"] = yax(328, 372, [-0.17, 1.67], [0], ["low"], False, "x3", fb)
layout["yaxis19"] = yax(372, 415, [-15, 243], [135, 90, 45], ["135", "90", "45"], True, "x3", 9)
layout["yaxis20"] = yax(415, 526, [0, 197], APN, APN_T, True, "x3", fb)
layout["yaxis21"] = yax(526, 634, [0, 194], APN, APN_T, True, "x3", fb)
layout["yaxis22"] = yax(634, 678, [0, 96], APN, APN_T, True, "x3", fb)

# ---------- text labels ----------
ann = []


def label(text, right_px, y_px, size=12, bold=False):
    ann.append(dict(text=("<b>%s</b>" % text) if bold else text, xref="paper", yref="paper",
                    x=xpaper(right_px), y=ypaper(y_px), xanchor="right", yanchor="middle",
                    showarrow=False, font=dict(size=size, color="#222222", family=FONT)))


for t, y in [("SpO2", 246), ("[%]", 256), ("Heart Rate", 311), ("[bpm]", 322), ("Snore", 380),
             ("RMI", 433), ("Obstructive", 463), ("[seconds]", 474), ("Central", 510),
             ("[seconds]", 521), ("Mixed", 556), ("[seconds]", 567), ("Hypopnea", 603),
             ("[seconds]", 614), ("Autonomic", 650), ("[seconds]", 660)]:
    label(t, 76, y, 12)
for t, y in [("Desat", 213), ("Snore", 355), ("high", 365), ("RMI", 403)]:
    label(t, 101, y, fa)

for t, y in [("SpO2", 235), ("[%]", 245), ("Heart Rate", 291), ("[bpm]", 302), ("Snore", 357),
             ("RMI", 405), ("Apnea", 493), ("[seconds]", 503), ("Hypopnea", 603),
             ("[seconds]", 614), ("Autonomic", 652), ("[seconds]", 662)]:
    label(t, 726, y, 11)
for t, y in [("Desat", 200), ("Snore", 334), ("high", 344), ("RMI", 378), ("Obstructive", 465)]:
    label(t, 751, y, fb)

label("A", 34, 689, 26, True)
label("B", 688, 689, 26, True)

layout["annotations"] = ann
fig.update_layout(**layout)
fig.write_html("out.html")
